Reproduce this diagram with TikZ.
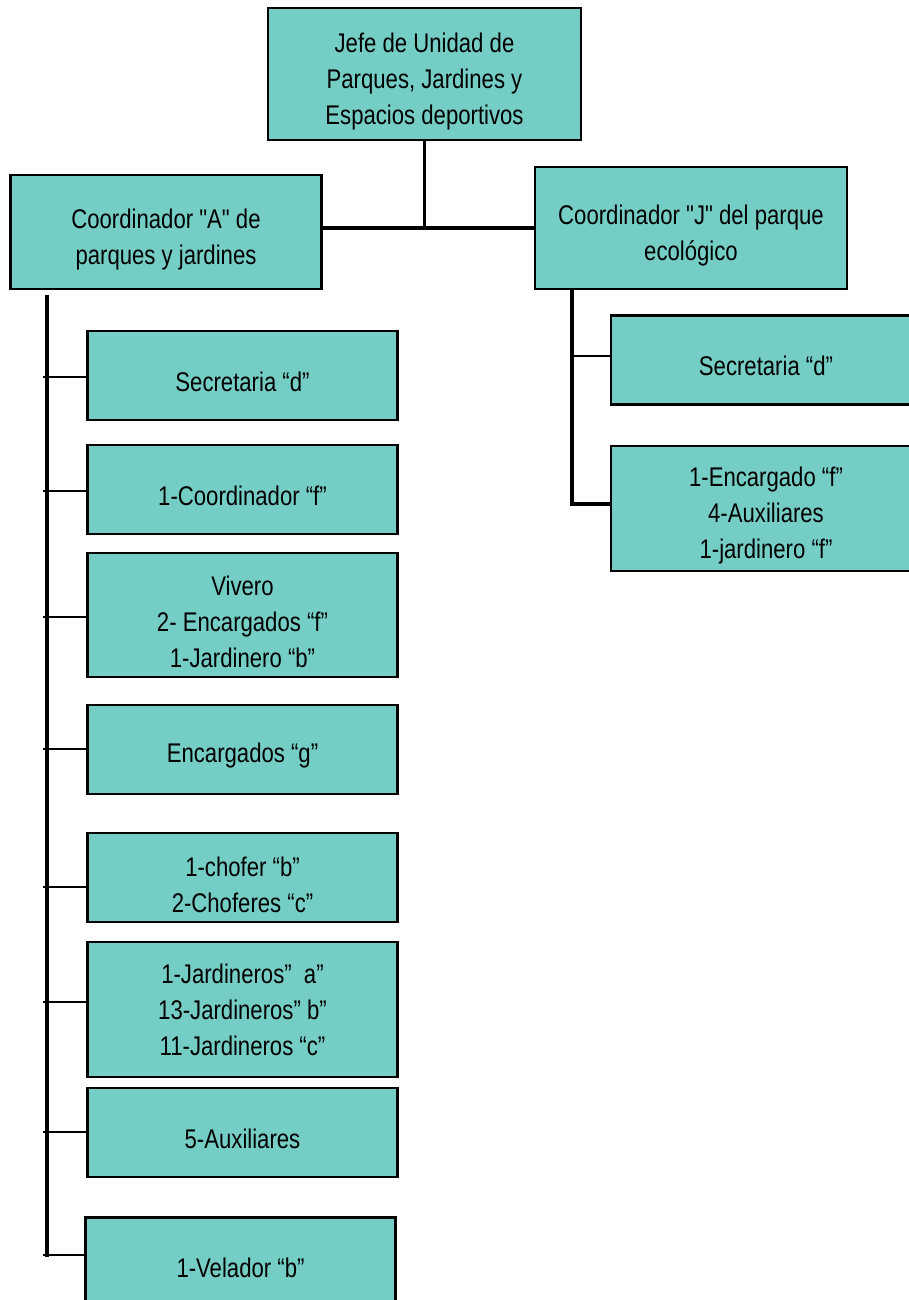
\documentclass[tikz,border=0pt]{standalone}
\usepackage{fontspec}
\setmainfont{Liberation Sans}[FakeStretch=0.82,Ligatures=TeXOff]
\definecolor{caja}{RGB}{117,206,198}
\newcommand{\alto}{\rule{0pt}{17pt}}
\begin{document}
\begin{tikzpicture}[x=0.5pt,y=-0.5pt,
  puesto/.style={draw,fill=caja,line width=1.3pt,minimum width=155pt,minimum height=44.5pt,
    align=center,inner sep=2pt,font=\fontsize{13.5}{18}\selectfont,
    execute at begin node={\rule{0pt}{16pt}}},
  rama/.style={line width=0.7pt},
  tronco/.style={line width=1.6pt}]
\useasboundingbox (0,0) rectangle (909,1300);
\clip (0,0) rectangle (909,1300);
\node[puesto,minimum width=156.5pt,minimum height=66pt] (jefe) at (424.5,74) {\alto Jefe de Unidad de\\Parques, Jardines y\\Espacios deportivos};
\node[puesto,minimum width=155.5pt,minimum height=57pt] (coordA) at (166,232) {\alto Coordinador "A" de\\parques y jardines};
\node[puesto,minimum width=156pt,minimum height=61pt] (coordJ) at (691,228) {\alto Coordinador "J" del parque\\ecológico};
\node[puesto] (secA) at (242.5,375.5) {Secretaria “d”};
\node[puesto] (coordF) at (242.5,489.5) {1-Coordinador “f”};
\node[puesto,minimum height=62pt] (vivero) at (242.5,615) {\alto Vivero\\2- Encargados “f”\\1-Jardinero “b”};
\node[puesto] (encG) at (242.5,749.5) {Encargados “g”};
\node[puesto] (chofer) at (242.5,877.5) {\alto 1-chofer “b”\\2-Choferes “c”};
\node[puesto,minimum height=67.5pt] (jard) at (242.5,1009.5) {1-Jardineros”~ a”\\13-Jardineros” b”\\11-Jardineros “c”};
\node[puesto] (aux) at (242.5,1132.5) {5-Auxiliares};
\node[puesto] (velador) at (240.5,1262) {1-Velador “b”};
\node[puesto] (secJ) at (766,360) {Secretaria “d”};
\node[puesto,minimum height=62.5pt] (encJ) at (766,508.5) {\alto 1-Encargado “f”\\4-Auxiliares\\1-jardinero “f”};
\draw[tronco] (jefe.south) -- (jefe.south |- 0,228);
\draw[tronco] (coordA.east |- 0,228) -- (coordJ.west |- 0,228);
\draw[tronco] (47,295) -- (47,1257);
\foreach \n/\y in {secA/377,coordF/491,vivero/617,encG/749,chofer/887,jard/1002,aux/1132,velador/1255}
  \draw[rama] (43,\y) -- (\n.west |- 0,\y);
\draw[tronco] (coordJ.south -| 572,0) -- (572,504) -- (encJ.west |- 0,504);
\draw[rama] (572,356) -- (secJ.west |- 0,356);
\end{tikzpicture}
\end{document}
